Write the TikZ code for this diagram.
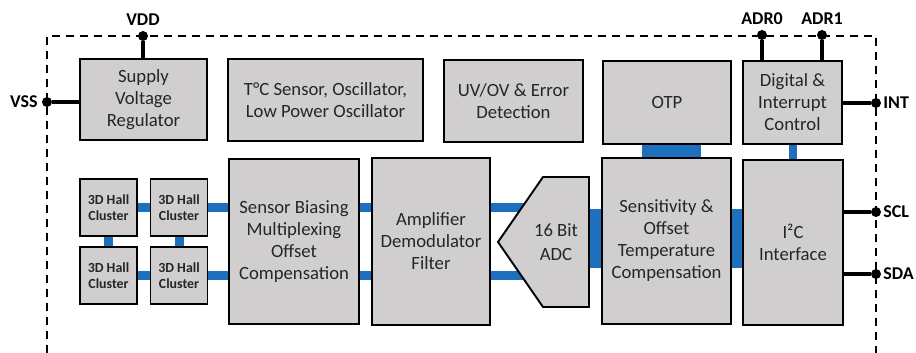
\documentclass[tikz,border=0pt]{standalone}
\usepackage{fontspec}
\setmainfont{Carlito}
\usepackage{tikz}
\usetikzlibrary{positioning, backgrounds}

\definecolor{boxgray}{RGB}{208,206,206}
\definecolor{busblue}{RGB}{30,112,190}
\definecolor{txtgray}{RGB}{38,38,38}

\begin{document}
\begin{tikzpicture}[
    x=1pt, y=-1pt,
    blk/.style={rectangle, draw=black, line width=1.9pt, fill=boxgray, text=txtgray, align=center, inner sep=0pt, font=\fontsize{18.7}{22}\selectfont},
    hall/.style={blk, minimum width=57pt, minimum height=57pt, font=\bfseries\fontsize{13.9}{16.5}\selectfont},
    pin/.style={circle, fill=black, inner sep=0pt, minimum size=10pt},
    pinlbl/.style={inner sep=0pt, font=\bfseries\fontsize{18}{20}\selectfont},
    wire/.style={line width=3.4pt},
    bus/.style={draw=busblue, line width=9pt},
    wbus/.style={draw=busblue, line width=59pt}
]
\useasboundingbox (0,0) rectangle (916,353);

% chip outline
\draw[line width=1.8pt, dash pattern=on 8pt off 6pt] (47,353) -- (47,36) -- (876,36) -- (876,353);

% top row
\node[blk, minimum width=127pt, minimum height=81pt] (svr) at (143.5,99.5) {Supply\\Voltage\\Regulator};
\node[blk, minimum width=195pt, minimum height=82pt] (tsens) at (325.5,100) {T°C Sensor, Oscillator,\\Low Power Oscillator};
\node[blk, minimum width=139pt, minimum height=82pt] (uvov) at (513.5,101) {UV/OV \& Error\\Detection};
\node[blk, minimum width=128pt, minimum height=83pt] (otp) at (667,102.5) {OTP};
\node[blk, minimum width=99pt, minimum height=83pt] (dig) at (792.5,102.5) {Digital \&\\Interrupt\\Control};

% hall sensors
\node[hall] (hall1) at (108.5,207.5) {3D Hall\\Cluster};
\node[hall] (hall2) at (179,207.5) {3D Hall\\Cluster};
\node[hall] (hall3) at (108.5,275.5) {3D Hall\\Cluster};
\node[hall] (hall4) at (179,275.5) {3D Hall\\Cluster};

% signal chain
\node[blk, minimum width=130pt, minimum height=165pt] (bias) at (294,241.5) {Sensor Biasing\\Multiplexing\\Offset\\Compensation};
\node[blk, minimum width=118pt, minimum height=167pt] (amp) at (431,241.5) {Amplifier\\Demodulator\\Filter};
\draw[blk] (498,242) -- (543,177) -- (589,177) -- (589,307) -- (543,307) -- cycle;
\node[inner sep=0pt, align=center, text=txtgray, font=\fontsize{18.7}{24}\selectfont] (adc) at (556,242) {16 Bit\\ADC};
\node[blk, minimum width=129pt, minimum height=166pt] (comp) at (666.5,241) {Sensitivity \&\\Offset\\Temperature\\Compensation};
\node[blk, minimum width=100pt, minimum height=165pt] (iic) at (793,242.5) {I²C\\Interface};

% pins
\node[pin] (vdd) at (143,36) {};
\node[pin] (vss) at (47,102) {};
\node[pin] (adr0) at (762,35) {};
\node[pin] (adr1) at (822,35) {};
\node[pin] (int) at (876,103) {};
\node[pin] (scl) at (876,212) {};
\node[pin] (sda) at (876,274) {};
\node[pinlbl, above=5pt of vdd] (vddl) {VDD};
\node[pinlbl, left=4pt of vss] (vssl) {VSS};
\node[pinlbl, above=5pt of adr0] (adr0l) {ADR0};
\node[pinlbl, above=5pt of adr1] (adr1l) {ADR1};
\node[pinlbl, right=2pt of int] (intl) {INT};
\node[pinlbl, right=2pt of scl] (scll) {SCL};
\node[pinlbl, right=2pt of sda] (sdal) {SDA};

% pin wires
\draw[wire] (vdd) -- (vdd |- svr.north);
\draw[wire] (vss) -- (vss -| svr.west);
\draw[wire] (adr0) -- (adr0 |- dig.north);
\draw[wire] (adr1) -- (adr1 |- dig.north);
\draw[wire] (int) -- (int -| dig.east);
\draw[wire] (scl) -- (scl -| iic.east);
\draw[wire] (sda) -- (sda -| iic.east);

% internal buses
\begin{scope}[on background layer]
\draw[bus] (hall1) -- (hall2);
\draw[bus] (hall3) -- (hall4);
\draw[bus] (hall1) -- (hall3);
\draw[bus] (hall2) -- (hall4);
\draw[bus] (hall2) -- (hall2 -| bias);
\draw[bus] (hall4) -- (hall4 -| bias);
\draw[bus] (bias |- hall2) -- (amp |- hall2);
\draw[bus] (bias |- hall4) -- (amp |- hall4);
\draw[bus] (amp |- hall2) -- (adc |- hall2);
\draw[bus] (amp |- hall4) -- (adc |- hall4);
\draw[wbus] (adc |- 0,238.5) -- (comp |- 0,238.5);
\draw[wbus] (comp |- 0,238.5) -- (iic |- 0,238.5);
\draw[wbus] (671.5,0 |- otp) -- (671.5,0 |- comp);
\draw[bus, line width=8pt] (dig) -- (dig |- iic);
\end{scope}
\end{tikzpicture}
\end{document}
